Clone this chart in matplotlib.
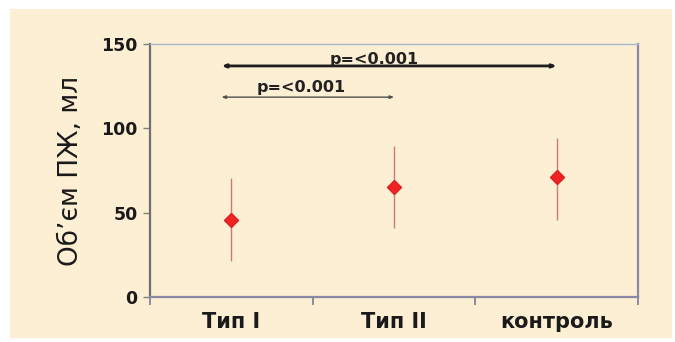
import numpy as np
import matplotlib
matplotlib.use("Agg")
import matplotlib.pyplot as plt
from matplotlib.patches import Rectangle

# ─── Data ────────────────────────────────────────────────────────────────────
groups = ["Тип I", "Тип II", "контроль"]
means = [45.5, 65.5, 71.0]
lower = [21.5, 41.0, 45.5]
upper = [70.5, 89.5, 94.0]
y_ticks = [0, 50, 100, 150]

# comparisons: (from group, to group, arrow y, label x, label y, text)
cmp_from = [0, 0]
cmp_to = [2, 1]
cmp_y = [137.0, 118.5]
cmp_label_x = [0.88, 0.43]
cmp_label_y = [141.0, 124.5]
cmp_text = ["p=<0.001", "p=<0.001"]
cmp_lw = [2.0, 1.0]
cmp_color = ["#1e1e1e", "#505050"]

bg = "#fdefd4"

# ─── Figure ──────────────────────────────────────────────────────────────────
fig = plt.figure(figsize=(6.75, 3.42), dpi=100, facecolor="white")
fig.patches.append(Rectangle((10 / 675, 4 / 342), 662 / 675, 329 / 342,
                             transform=fig.transFigure, facecolor=bg,
                             edgecolor="none", zorder=-10))

ax = fig.add_axes([150 / 675, 1 - 297 / 342, 488 / 675, 253 / 342])
ax.set_facecolor(bg)

x = np.arange(len(groups))
m = np.array(means)
err = [m - np.array(lower), np.array(upper) - m]
ax.errorbar(x, m, yerr=err, fmt="none", ecolor="#c97a7a", elinewidth=1.0,
            capsize=0, zorder=2)
ax.plot(x, m, linestyle="none", marker="D", markersize=7.5,
        color="#ee2424", markeredgecolor="#e01c1c", zorder=3)

# significance arrows
for a, b, yy, lx, ly, txt, lw, c in zip(cmp_from, cmp_to, cmp_y, cmp_label_x,
                                        cmp_label_y, cmp_text, cmp_lw, cmp_color):
    ax.annotate("", xy=(b, yy), xytext=(a - 0.06, yy),
                arrowprops=dict(arrowstyle="<|-|>,head_length=0.22,head_width=0.09",
                                color=c, lw=lw, shrinkA=0, shrinkB=0))
    ax.text(lx, ly, txt, ha="center", va="center", fontsize=11.5,
            fontweight="bold", family="DejaVu Sans", color="#222222")

# axes
ax.set_xlim(-0.5, 2.5)
ax.set_ylim(0, 150)
ax.set_yticks(y_ticks)
ax.set_yticklabels([str(v) for v in y_ticks], fontsize=12.5, fontweight="bold",
                   family="DejaVu Sans", color="#1a1a1a")
ax.set_xticks(x)
ax.set_xticklabels(groups, fontsize=15, fontweight="bold",
                   family="DejaVu Sans", color="#1a1a1a")
ax.tick_params(axis="x", which="major", length=0, pad=11)
ax.set_xticks([-0.5, 0.5, 1.5, 2.5], minor=True)
ax.tick_params(axis="x", which="minor", length=6, width=1.2,
               color="#7a7a9a", direction="out")
ax.tick_params(axis="y", length=5, width=1.0, color="#808080",
               direction="out", pad=4)

ax.set_ylabel("Об’єм ПЖ, мл", fontsize=19, family="DejaVu Sans",
              color="#1a1a1a", labelpad=12)

ax.spines["left"].set_color("#6e6e6e")
ax.spines["left"].set_linewidth(1.6)
ax.spines["bottom"].set_color("#8a8aa6")
ax.spines["bottom"].set_linewidth(1.6)
ax.spines["top"].set_color("#aab8cc")
ax.spines["top"].set_linewidth(1.0)
ax.spines["right"].set_color("#8a8aa6")
ax.spines["right"].set_linewidth(1.6)

fig.savefig("out.png", dpi=100, facecolor=fig.get_facecolor())
